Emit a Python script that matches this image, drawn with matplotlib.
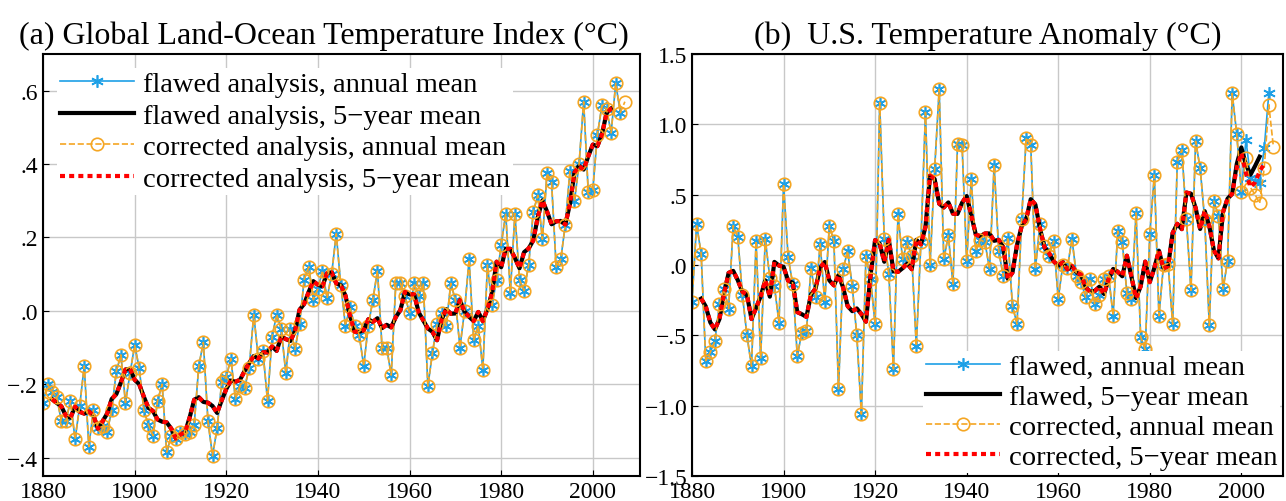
import numpy as np
import pandas as pd
import matplotlib
matplotlib.use('Agg')
import matplotlib.pyplot as plt
from matplotlib.ticker import FuncFormatter

plt.rcParams['font.family'] = ['Liberation Serif', 'DejaVu Serif']

# global land-ocean index, annual means 1880-2006 (flawed == corrected)
years_gl = list(range(1880, 2007))
glob = [-0.25, -0.20, -0.22, -0.235, -0.30, -0.30, -0.245, -0.35, -0.26, -0.15,
        -0.37, -0.27, -0.32, -0.315, -0.33, -0.27, -0.165, -0.12, -0.25, -0.17,
        -0.094, -0.155, -0.27, -0.31, -0.34, -0.245, -0.20, -0.385, -0.34, -0.35,
        -0.33, -0.335, -0.33, -0.31, -0.15, -0.086, -0.30, -0.395, -0.32, -0.195,
        -0.18, -0.13, -0.24, -0.205, -0.21, -0.155, -0.01, -0.13, -0.11, -0.245,
        -0.07, -0.01, -0.05, -0.17, -0.05, -0.105, -0.035, 0.085, 0.12, 0.03,
        0.06, 0.11, 0.035, 0.10, 0.21, 0.07, -0.04, 0.01, -0.04, -0.065,
        -0.15, -0.04, 0.03, 0.11, -0.10, -0.10, -0.175, 0.075, 0.075, 0.04,
        -0.005, 0.075, 0.04, 0.075, -0.205, -0.115, -0.035, -0.005, -0.04, 0.075,
        0.03, -0.10, 0.0, 0.14, -0.08, -0.04, -0.16, 0.125, 0.015, 0.085,
        0.18, 0.265, 0.05, 0.265, 0.085, 0.055, 0.125, 0.27, 0.315, 0.195,
        0.375, 0.35, 0.12, 0.14, 0.235, 0.38, 0.30, 0.40, 0.57, 0.325,
        0.33, 0.48, 0.56, 0.55, 0.485, 0.62, 0.54]
glob_corr_2007 = 0.57

# U.S. temperature anomaly, 1880-1999 (common part)
years_us = list(range(1880, 2000))
us = [-0.265, 0.29, 0.08, -0.68, -0.62, -0.54, -0.28, -0.17, -0.31, 0.28,
      0.20, -0.21, -0.50, -0.72, 0.17, -0.66, 0.185, -0.09, -0.15, -0.41,
      0.575, 0.055, -0.135, -0.645, -0.48, -0.47, -0.02, -0.23, 0.15, -0.265,
      0.28, 0.17, -0.88, -0.03, 0.10, -0.15, -0.50, -1.06, 0.065, -0.10,
      -0.42, 1.155, 0.185, -0.065, -0.74, 0.36, 0.04, 0.16, 0.065, -0.575,
      0.16, 1.085, 0.0, 0.68, 1.25, 0.04, 0.21, -0.135, 0.86, 0.85,
      0.03, 0.61, 0.10, 0.18, 0.16, -0.03, 0.71, 0.10, -0.08, 0.195,
      -0.29, -0.42, 0.325, 0.905, 0.85, -0.03, 0.29, 0.135, 0.065, 0.17,
      -0.24, 0.0, -0.02, 0.185, -0.08, -0.12, -0.23, -0.10, -0.28, -0.21,
      -0.10, -0.08, -0.36, 0.24, 0.16, -0.20, -0.24, 0.37, -0.51, -0.60,
      0.22, 0.64, -0.36, 0.0, 0.01, -0.42, 0.73, 0.82, 0.325, -0.18,
      0.88, 0.69, 0.32, -0.43, 0.455, 0.35, -0.17, 0.03, 1.22, 0.93]
us_flawed_tail = [0.52, 0.89, 0.62, 0.60, 0.58, 0.83, 1.22]        # 2000-2006
us_corr_tail = [0.52, 0.76, 0.55, 0.50, 0.44, 0.69, 1.14, 0.84]    # 2000-2007

BLUE = '#1ea0e6'
ORANGE = '#f5a623'
star = (6, 2, 0)


def five_year(yrs, vals):
    s = pd.Series(vals, index=yrs).rolling(5, center=True).mean().dropna()
    return s.index.values, s.values


def draw(ax, yrs_f, f, yrs_c, c, labels, ms=9):
    ax.plot(yrs_f, f, color=BLUE, lw=1.2, marker=star, ms=ms, mew=1.2, label=labels[0])
    x5, y5 = five_year(yrs_f, f)
    ax.plot(x5, y5, color='black', lw=3, label=labels[1])
    ax.plot(yrs_c, c, color=ORANGE, lw=1.2, ls='--', marker='o', ms=ms, mfc='none',
            mec=ORANGE, mew=1.2, label=labels[2])
    x5, y5 = five_year(yrs_c, c)
    ax.plot(x5, y5, color='red', lw=3, ls=(0, (1.2, 1.0)), label=labels[3])
    ax.grid(True, color='#c8c8c8', lw=1)
    ax.set_axisbelow(True)
    for s in ax.spines.values():
        s.set_linewidth(1.5)
    ax.tick_params(labelsize=17, direction='in', length=4)
    ax.set_xticks(range(1880, 2001, 20))


def fmt(v, pos):
    s = ('%.1f' % abs(v))
    if s.startswith('0'):
        s = s[1:]
    return ('\u2212' if v < -1e-9 else '') + s


fig = plt.figure(figsize=(12.86, 5.02), dpi=100)
ax1 = fig.add_axes([43 / 1286, 25 / 502, 597 / 1286, 422 / 502])
ax2 = fig.add_axes([692 / 1286, 25 / 502, 591 / 1286, 422 / 502])

draw(ax1, years_gl, glob, years_gl + [2007], glob + [glob_corr_2007],
     ['flawed analysis, annual mean', 'flawed analysis, 5\u2212year mean',
      'corrected analysis, annual mean', 'corrected analysis, 5\u2212year mean'])
ax1.set_xlim(1880, 2010.3)
ax1.set_ylim(-0.45, 0.7)
ax1.set_yticks([-0.4, -0.2, 0.0, 0.2, 0.4, 0.6])
ax1.yaxis.set_major_formatter(FuncFormatter(fmt))
ax1.set_title('(a) Global Land-Ocean Temperature Index (\u00b0C)', fontsize=23, pad=8, x=0.47)
ax1.legend(loc='upper left', fontsize=20.5, frameon=True, framealpha=1,
           edgecolor='none', fancybox=False, borderpad=0.1, labelspacing=0.2,
           handlelength=2.6, handletextpad=0.3, borderaxespad=0.5)

draw(ax2, years_us + list(range(2000, 2007)), us + us_flawed_tail,
     years_us + list(range(2000, 2008)), us + us_corr_tail,
     ['flawed, annual mean', 'flawed, 5\u2212year mean',
      'corrected, annual mean', 'corrected, 5\u2212year mean'])
ax2.set_xlim(1880, 2009.1)
ax2.set_ylim(-1.5, 1.5)
ax2.set_yticks([-1.5, -1.0, -0.5, 0.0, 0.5, 1.0, 1.5])
ax2.yaxis.set_major_formatter(FuncFormatter(fmt))
ax2.set_title('(b)  U.S. Temperature Anomaly (\u00b0C)', fontsize=23, pad=8)
ax2.legend(loc='lower right', fontsize=20.5, frameon=True, framealpha=1,
           edgecolor='none', fancybox=False, borderpad=0.1, labelspacing=0.15,
           handlelength=2.6, handletextpad=0.3, borderaxespad=0.1)

fig.savefig('out.png', dpi=100)
